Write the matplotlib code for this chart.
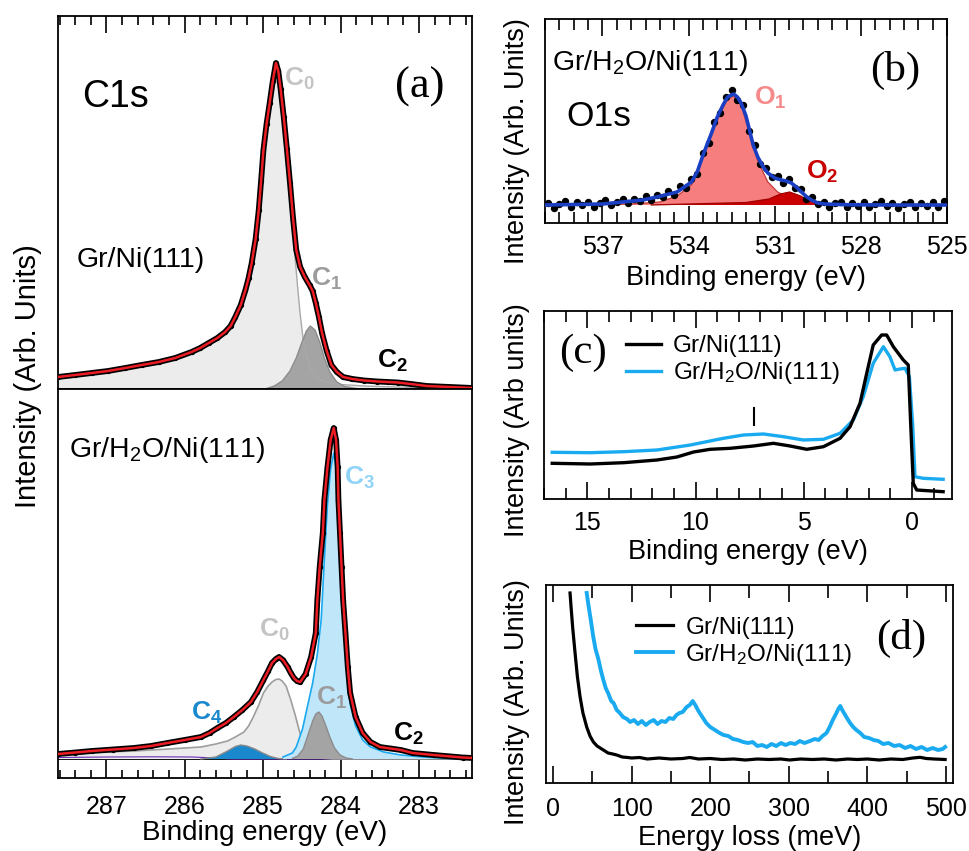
import numpy as np
import matplotlib
matplotlib.use("Agg")
import matplotlib.pyplot as plt
from matplotlib.ticker import MultipleLocator

plt.rcParams['font.family'] = ['Liberation Sans', 'DejaVu Sans']
plt.rcParams['mathtext.fontset'] = 'custom'
plt.rcParams['mathtext.rm'] = 'Liberation Sans'
plt.rcParams['mathtext.bf'] = 'Liberation Sans:bold'
plt.rcParams['mathtext.default'] = 'regular'

# ---------------- (a) C1s, Gr/Ni(111) ----------------
c1s_gr_be = [287.62, 287.40, 287.19, 286.98, 286.76, 286.55, 286.33, 286.12, 285.91, 285.80,
             285.69, 285.58, 285.48, 285.41, 285.35, 285.28, 285.22, 285.18, 285.14, 285.09,
             285.05, 285.02, 284.99, 284.95, 284.91, 284.87, 284.83, 284.80, 284.77, 284.73,
             284.69, 284.65, 284.61, 284.57, 284.52, 284.46, 284.40, 284.36, 284.32, 284.28,
             284.24, 284.18, 284.12, 284.05, 283.97, 283.85, 283.70, 283.53, 283.40, 283.27,
             283.10, 282.90, 282.60, 282.31]
c1s_gr_total = [12, 14, 16, 18, 21, 24, 27, 31, 37, 41,
                46, 51, 57, 63, 72, 84, 99, 111, 126, 150,
                179, 208, 239, 265, 286, 308, 326, 318, 300, 272,
                240, 206, 170, 139, 122, 112, 104, 98, 86, 72,
                56, 38, 24, 17, 12, 10, 8.5, 7.5, 7, 6.5,
                5, 3, 2, 1]

c1s_gr_c0_be = [287.62, 287.19, 286.76, 286.33, 285.91, 285.69, 285.48, 285.35, 285.22, 285.14,
                285.05, 284.99, 284.91, 284.83, 284.77, 284.73, 284.69, 284.65, 284.60, 284.55,
                284.52, 284.47, 284.40, 284.32, 284.20, 284.00, 283.70, 283.30, 282.31]
c1s_gr_c0 = [11, 15, 20, 26, 36, 45, 56, 70, 96, 122,
             175, 235, 283, 323, 296, 266, 230, 190, 145, 100,
             75, 42, 22, 12, 7, 4.5, 3, 2, 0.5]

c1s_gr_c1_be = [284.95, 284.85, 284.75, 284.65, 284.57, 284.50, 284.44, 284.39, 284.33, 284.27,
                284.21, 284.14, 284.05, 283.95, 283.80]
c1s_gr_c1 = [0.5, 3, 8, 18, 31, 46, 58, 63, 59, 47, 31, 17, 7, 2.5, 0.5]

# ---------------- (a) C1s, Gr/H2O/Ni(111) ----------------
c1s_w_be = [287.62, 287.40, 287.19, 286.92, 286.65, 286.43, 286.22, 286.00, 285.79, 285.68,
            285.58, 285.47, 285.37, 285.26, 285.15, 285.07, 284.99, 284.93, 284.88, 284.83,
            284.79, 284.74, 284.68, 284.64, 284.60, 284.56, 284.52, 284.45, 284.38, 284.32,
            284.30, 284.27, 284.23, 284.21, 284.17, 284.13, 284.09, 284.06, 284.04, 284.03,
            284.01, 283.99, 283.97, 283.94, 283.91, 283.88, 283.81, 283.72, 283.62, 283.50,
            283.23, 283.08, 282.81, 282.44, 282.31]
c1s_w_total = [5, 6.5, 8, 9.5, 11, 13, 16, 19, 22, 26,
               31, 36, 42, 49, 57, 67, 79, 88, 96, 100,
               102, 99, 92, 86, 81, 78, 77, 85, 102, 126,
               159, 192, 226, 259, 292, 319, 331, 319, 292, 259,
               226, 192, 159, 126, 92, 66, 42, 26, 17, 12,
               9, 6, 4, 1.5, 1]

c1s_w_c0_be = [287.62, 287.00, 286.65, 286.20, 285.79, 285.60, 285.45, 285.35, 285.24, 285.18,
               285.12, 285.05, 284.99, 284.93, 284.88, 284.83, 284.79, 284.75, 284.70, 284.64,
               284.58, 284.53, 284.49, 284.45, 284.40, 284.36, 284.27, 284.10, 282.31]
c1s_w_c0 = [6, 7, 8, 10, 12, 15, 18, 22, 27, 33,
            42, 54, 66, 73, 77, 79.5, 80, 78, 73, 59,
            43, 28, 18, 11, 6, 4, 1, 0, 0]

c1s_w_c1_be = [284.62, 284.55, 284.48, 284.42, 284.36, 284.32, 284.28, 284.24, 284.19, 284.14,
               284.08, 284.01, 283.93, 283.85]
c1s_w_c1 = [0.5, 3, 10, 24, 38, 45, 47, 43, 33, 22, 11, 4, 1, 0]

c1s_w_c3_be = [284.74, 284.62, 284.57, 284.49, 284.42, 284.36, 284.30, 284.25, 284.21, 284.17,
               284.13, 284.09, 284.06, 284.04, 284.03, 284.01, 283.99, 283.97, 283.94, 283.91,
               283.88, 283.81, 283.72, 283.62, 283.45, 283.23, 282.95, 282.60, 282.31]
c1s_w_c3 = [2, 6, 12, 30, 55, 76, 105, 140, 200, 255,
            290, 306, 292, 265, 235, 200, 168, 138, 108, 78,
            55, 33, 19, 12, 7, 4, 2, 0.5, 0]

c1s_w_c4_be = [285.79, 285.60, 285.45, 285.35, 285.28, 285.20, 285.10, 285.00, 284.90, 284.80, 284.70]
c1s_w_c4 = [0, 2, 8, 12.5, 14, 13, 10, 6, 2.5, 0.5, 0]

c1s_w_c5_be = [287.62, 287.00, 286.40, 285.90, 285.60, 285.40, 283.60, 283.30, 283.00, 282.70, 282.31]
c1s_w_c5 = [1.5, 2, 2.2, 2, 1, 0, 0, 1.5, 2, 1.5, 1]

# ---------------- (b) O1s ----------------
o1s_fit_be = [539.0, 538.0, 537.0, 536.3, 535.6, 535.1, 534.4, 533.9, 533.7, 533.47,
              533.2, 533.0, 532.8, 532.64, 532.43, 532.3, 532.17, 532.0, 531.88, 531.75,
              531.59, 531.4, 531.24, 531.0, 530.77, 530.6, 530.42, 530.25, 530.07, 529.9,
              529.72, 529.5, 529.26, 528.5, 527.0, 525.0]
o1s_fit = [0, 0.5, 1, 3, 5, 8, 13, 23, 33, 52,
           72, 88, 100, 108, 111, 108, 102, 89, 75, 60,
           48, 38, 32, 27, 25, 24, 22, 18, 13, 8.5,
           5, 2, 1, 0.3, 0, 0]

o1s_o1_be = [539.0, 536.0, 535.0, 534.4, 533.9, 533.47, 533.0, 532.64, 532.43, 532.17,
             531.88, 531.59, 531.24, 530.9, 530.5, 530.0, 529.5, 525.0]
o1s_o1 = [0, 1, 3, 9, 20, 50, 86, 106, 109, 100, 72, 44, 23, 13, 7, 2, 0.5, 0]

o1s_o2_be = [535.3, 534.0, 532.0, 531.2, 530.8, 530.48, 530.1, 529.8, 529.4, 528.5]
o1s_o2 = [0, 1, 2.5, 6, 11, 13, 9, 4, 0.5, 0]

o1s_data_be = [538.9, 538.7, 538.5, 538.3, 538.1, 537.9, 537.7, 537.5, 537.3, 537.1,
               536.9, 536.7, 536.5, 536.3, 536.1, 535.9, 535.7, 535.5, 535.3, 535.1,
               534.9, 534.7, 534.5, 534.3, 534.1, 533.9, 533.7, 533.5, 533.3, 533.1,
               532.9, 532.7, 532.5, 532.3, 532.1, 531.9, 531.7, 531.5, 531.3, 531.1,
               530.9, 530.7, 530.5, 530.3, 530.1, 529.9, 529.7, 529.5, 529.3, 529.1,
               528.9, 528.7, 528.5, 528.3, 528.1, 527.9, 527.7, 527.5, 527.3, 527.1,
               526.9, 526.7, 526.5, 526.3, 526.1, 525.9, 525.7, 525.5, 525.3, 525.1]
o1s_data = [2, -3, 1, 4, -2, 3, 0, 3, -2, 2,
            5, 0, 3, 6, 2, 6, 4, 9, 5, 10,
            8, 14, 10, 19, 17, 26, 31, 52, 62, 83,
            92, 108, 115, 105, 100, 74, 60, 41, 37, 28,
            29, 22, 26, 17, 16, 6, 8, 1, 3, -2,
            2, 3, -2, 2, -1, 3, -2, 1, 4, -1,
            2, -3, 1, 3, -2, 2, -1, 3, -2, 4]

# ---------------- (c) valence band ----------------
vb_gr_be = [16.62, 14.86, 13.32, 11.78, 10.86, 10.09, 9.32, 8.40, 7.32, 6.40,
            5.63, 4.86, 4.09, 3.32, 2.86, 2.40, 2.09, 1.79, 1.40, 1.17,
            0.86, 0.40, 0.17, 0.06, -0.06, -0.22, -1.44]
vb_gr = [35.7, 35, 36.3, 39, 42, 47, 49.7, 50.7, 53, 55.7,
         53, 49.7, 52.3, 60.7, 72.3, 95.7, 125.7, 154, 164, 164,
         152.3, 139, 134, 75.7, 15.7, 9, 7.3]

vb_w_be = [16.62, 14.86, 13.32, 11.78, 10.24, 8.71, 7.78, 6.86, 5.94, 5.02,
           4.09, 3.32, 2.71, 2.25, 1.79, 1.32, 1.02, 0.78, 0.55, 0.32,
           0.12, -0.03, -0.14, -0.52, -1.44]
vb_w = [46.7, 46.3, 47.3, 49, 54, 60.7, 64, 65, 62.3, 59,
        59.7, 65.7, 79, 102.3, 135.7, 152.3, 142.3, 129, 130, 130.7,
        122.3, 75.7, 22.3, 20.7, 19.7]
vb_mark_be = 7.3

# ---------------- (d) HREELS ----------------
eels_gr_e = [21.6, 23, 25, 28, 31, 34.4, 38, 42.8, 47, 51.3,
             56, 60, 64, 70, 76, 81, 88, 95, 100, 110,
             120, 135, 150, 165, 174, 185, 200, 215, 230, 245,
             260, 275, 290, 301, 315, 330, 345, 360, 375, 387,
             400, 415, 430, 445, 458, 467, 475, 485, 499]
eels_gr = [190, 175, 155, 130, 106, 86, 70, 56, 47, 41,
           37, 35, 33, 30, 29, 28, 26, 25.5, 25, 25.5,
           24, 25, 24, 24.5, 25.5, 24, 24.5, 23.5, 24, 23,
           24, 23.5, 24, 23, 24, 23.5, 24, 23, 24, 23.5,
           24, 23, 24, 23.5, 25, 25.7, 24.5, 24, 23.5]

eels_w_e = [42.8, 45, 48, 51, 54, 57.6, 61, 64, 67, 70,
            74, 77, 81, 85, 89, 94, 98, 103, 108, 113,
            118, 123, 128, 133, 138, 143, 148, 153, 157, 161,
            165, 170, 174, 177.7, 181, 185, 190, 195, 200, 206,
            212, 217, 223, 229, 235, 242, 248, 254, 260, 266,
            272, 278, 284, 290, 296, 302, 308, 314, 320, 327,
            333, 338, 343, 348, 352, 356, 360, 363, 365.5, 368,
            371, 374, 378, 382, 386, 391, 396, 402, 408, 414,
            420, 427, 434, 441, 448, 455, 462, 469, 476, 483,
            490, 496, 499]
eels_w = [190, 178, 163, 147, 134, 124, 112, 103, 95, 90,
          82, 80, 73, 70, 66, 64, 61, 63, 59, 62,
          58, 61, 63, 59, 62, 61, 65, 64, 68, 70,
          71, 76, 78, 82, 78, 72, 66, 60, 56, 53,
          50, 48, 47, 44, 43, 41, 40, 41, 37, 38,
          36, 39, 37, 40, 38, 40, 39, 42, 40, 42,
          44, 43, 47, 50, 56, 63, 69, 74, 77, 73,
          69, 65, 60, 56, 53, 50, 46, 45, 43, 42,
          39, 40, 37, 38, 35, 37, 34, 36, 33, 35,
          33, 34, 36]

W, H = 970, 851
fig = plt.figure(figsize=(W / 100, H / 100), dpi=100)


def panel(left, top, right, bottom):
    return fig.add_axes([left / W, 1 - bottom / H, (right - left) / W, (bottom - top) / H])


def frame(ax):
    for s in ax.spines.values():
        s.set_linewidth(1.3)
    ax.set_yticks([])


def component(ax, be, vals, face, edge, lw=1.0, z=2):
    ax.fill_between(be, vals, 0, facecolor=face, lw=0, zorder=z)
    ax.plot(be, vals, color=edge, lw=lw, zorder=z + 0.1)


def spectrum(ax, be, vals):
    ax.plot(be, vals, color='k', lw=4.2, marker='o', ms=2.8, zorder=4)
    ax.plot(be, vals, color='#ec1c24', lw=1.8, zorder=5)


def peak_label(ax, x, y, sym, sub, color):
    ax.text(x, y, r'$\mathbf{%s}_\mathbf{%s}$' % (sym, sub), color=color,
            fontsize=19, ha='left', va='center', zorder=6)


TICK = 18
LAB = 19.5
LEG = 17.5

# ---- (a) upper ----
axu = panel(58, 16, 472, 389)
frame(axu)
component(axu, c1s_gr_c0_be, c1s_gr_c0, '#ececec', '#a9a9a9')
component(axu, c1s_gr_c1_be, c1s_gr_c1, '#a4a4a4', '#8c8c8c')
spectrum(axu, c1s_gr_be, c1s_gr_total)
axu.set_xlim(287.62, 282.32)
axu.set_ylim(0, 373)
axu.xaxis.set_major_locator(MultipleLocator(1))
axu.xaxis.set_minor_locator(MultipleLocator(0.2))
axu.tick_params(axis='x', which='both', direction='in', top=True, bottom=False,
                labelbottom=False, labeltop=False, width=1.2)
axu.tick_params(axis='x', which='major', length=12)
axu.tick_params(axis='x', which='minor', length=6.5)
axu.text(0.058, 0.783, 'C1s', transform=axu.transAxes, fontsize=27, va='center')
axu.text(0.044, 0.346, 'Gr/Ni(111)', transform=axu.transAxes, fontsize=20.5, va='center')
axu.text(0.815, 0.81, '(a)', transform=axu.transAxes, fontsize=32, va='center',
         family='Liberation Serif')
peak_label(axu, 284.73, 310, 'C', '0', '#c4c4c4')
peak_label(axu, 284.38, 110, 'C', '1', '#9c9c9c')
peak_label(axu, 283.53, 28, 'C', '2', 'k')

# ---- (a) lower ----
axl = panel(58, 389, 472, 778)
frame(axl)
axl.axhline(0, color='k', lw=1.3, zorder=1)
component(axl, c1s_w_c5_be, c1s_w_c5, '#6a2ab8', '#6a2ab8', lw=0.8)
component(axl, c1s_w_c0_be, c1s_w_c0, '#ececec', '#9e9e9e', lw=1.2)
component(axl, c1s_w_c4_be, c1s_w_c4, '#1a88cc', '#8a8a8a', lw=1.0, z=2.5)
component(axl, c1s_w_c3_be, c1s_w_c3, '#c0e6fa', '#1ba9f0', lw=1.2, z=2.6)
component(axl, c1s_w_c1_be, c1s_w_c1, '#a4a4a4', '#8c8c8c', lw=1.0, z=2.7)
spectrum(axl, c1s_w_be, c1s_w_total)
axl.set_xlim(287.62, 282.32)
axl.set_ylim(-19, 370)
axl.xaxis.set_major_locator(MultipleLocator(1))
axl.xaxis.set_minor_locator(MultipleLocator(0.2))
axl.tick_params(axis='x', which='both', direction='in', top=False, width=1.2,
                labelsize=TICK, pad=12)
axl.tick_params(axis='x', which='major', length=13)
axl.tick_params(axis='x', which='minor', length=6)
axl.set_xlabel('Binding energy (eV)', fontsize=LAB + 0.5)
axl.xaxis.label.set_va('center')
axl.xaxis.set_label_coords(0.5, -0.142)
axl.text(0.027, 0.843, 'Gr/H$_2$O/Ni(111)', transform=axl.transAxes, fontsize=20.5,
         va='center')
peak_label(axl, 285.05, 129, 'C', '0', '#c4c4c4')
peak_label(axl, 283.96, 281, 'C', '3', '#8fd4f8')
peak_label(axl, 284.32, 61, 'C', '1', '#9c9c9c')
peak_label(axl, 285.92, 46, 'C', '4', '#1a88cc')
peak_label(axl, 283.33, 25, 'C', '2', 'k')

fig.text(28 / W, 1 - 376 / H, 'Intensity (Arb. Units)', rotation=90, fontsize=21,
         ha='center', va='center')

# ---- (b) O1s ----
axb = panel(545, 19, 947, 223)
frame(axb)
component(axb, o1s_o1_be, o1s_o1, '#f77e7e', '#c23a3a', lw=0.9)
component(axb, o1s_o2_be, o1s_o2, '#c80000', '#a00000', lw=0.9, z=2.5)
axb.plot(o1s_data_be, o1s_data, 'o', color='k', ms=4.3, zorder=4)
axb.plot(o1s_fit_be, o1s_fit, color='#1b3fc2', lw=2.6, zorder=5)
axb.set_xlim(539, 525)
axb.set_ylim(-18, 186)
axb.xaxis.set_major_locator(MultipleLocator(3))
axb.xaxis.set_minor_locator(MultipleLocator(0.5))
axb.tick_params(axis='x', which='both', direction='in', top=True, width=1.2,
                labelsize=TICK, pad=9)
axb.tick_params(axis='x', which='major', length=12)
axb.tick_params(axis='x', which='minor', length=8)
axb.set_xlabel('Binding energy (eV)', fontsize=LAB)
axb.xaxis.label.set_va('center')
axb.xaxis.set_label_coords(0.5, -0.27)
axb.set_ylabel('Intensity (Arb. Units)', fontsize=LAB)
axb.yaxis.label.set_va('center')
axb.yaxis.set_label_coords(-0.07, 0.4)
axb.text(0.018, 0.784, 'Gr/H$_2$O/Ni(111)', transform=axb.transAxes, fontsize=20.5,
         va='center')
axb.text(0.053, 0.52, 'O1s', transform=axb.transAxes, fontsize=25.5, va='center')
axb.text(0.81, 0.75, '(b)', transform=axb.transAxes, fontsize=31, va='center',
         family='Liberation Serif')
peak_label(axb, 531.72, 107, 'O', '1', '#f68a8a')
peak_label(axb, 529.9, 33, 'O', '2', '#c80000')

# ---- (c) valence band ----
axc = panel(544, 311, 952, 499)
frame(axc)
axc.plot(vb_gr_be, vb_gr, color='k', lw=2.4, label='Gr/Ni(111)', zorder=4)
axc.plot(vb_w_be, vb_w, color='#1aaaf0', lw=2.4, label='Gr/H$_2$O/Ni(111)', zorder=3)
axc.plot([vb_mark_be, vb_mark_be], [74, 91], color='k', lw=1.5)
axc.set_xlim(17, -1.85)
axc.set_ylim(0, 188)
axc.xaxis.set_major_locator(MultipleLocator(5))
axc.xaxis.set_minor_locator(MultipleLocator(1))
axc.tick_params(axis='x', which='both', direction='in', top=True, width=1.2,
                labelsize=TICK, pad=9)
axc.tick_params(axis='x', which='major', length=12)
axc.tick_params(axis='x', which='minor', length=8)
axc.set_xlabel('Binding energy (eV)', fontsize=LAB)
axc.xaxis.label.set_va('center')
axc.xaxis.set_label_coords(0.5, -0.28)
axc.set_ylabel('Intensity (Arb units)', fontsize=LAB)
axc.yaxis.label.set_va('center')
axc.yaxis.set_label_coords(-0.066, 0.42)
axc.text(0.037, 0.777, '(c)', transform=axc.transAxes, fontsize=31, va='center',
         family='Liberation Serif')
axc.legend(loc='upper left', bbox_to_anchor=(0.2, 0.87), frameon=False, fontsize=LEG,
           handlelength=1.45, handletextpad=0.5, labelspacing=0.12, borderpad=0,
           borderaxespad=0)

# ---- (d) HREELS ----
axd = panel(546, 585, 953, 783)
frame(axd)
axd.plot(eels_gr_e, eels_gr, color='k', lw=2.3, label='Gr/Ni(111)', zorder=4)
axd.plot(eels_w_e, eels_w, color='#1aaaf0', lw=2.8, label='Gr/H$_2$O/Ni(111)', zorder=3)
axd.set_xlim(-9, 509)
axd.set_ylim(0, 198)
axd.xaxis.set_major_locator(MultipleLocator(100))
axd.xaxis.set_minor_locator(MultipleLocator(50))
axd.tick_params(axis='x', which='both', direction='in', top=True, width=1.2,
                labelsize=TICK, pad=10)
axd.tick_params(axis='x', which='major', length=12)
axd.tick_params(axis='x', which='minor', length=9)
axd.set_xlabel('Energy loss (meV)', fontsize=LAB)
axd.xaxis.label.set_va('center')
axd.xaxis.set_label_coords(0.5, -0.28)
axd.set_ylabel('Intensity (Arb. Units)', fontsize=LAB)
axd.yaxis.label.set_va('center')
axd.yaxis.set_label_coords(-0.071, 0.41)
axd.text(0.81, 0.732, '(d)', transform=axd.transAxes, fontsize=31, va='center',
         family='Liberation Serif')
axd.legend(loc='upper left', bbox_to_anchor=(0.22, 0.84), frameon=False, fontsize=LEG,
           handlelength=1.55, handletextpad=0.5, labelspacing=0.12, borderpad=0,
           borderaxespad=0)

fig.savefig('out.png', dpi=100)
